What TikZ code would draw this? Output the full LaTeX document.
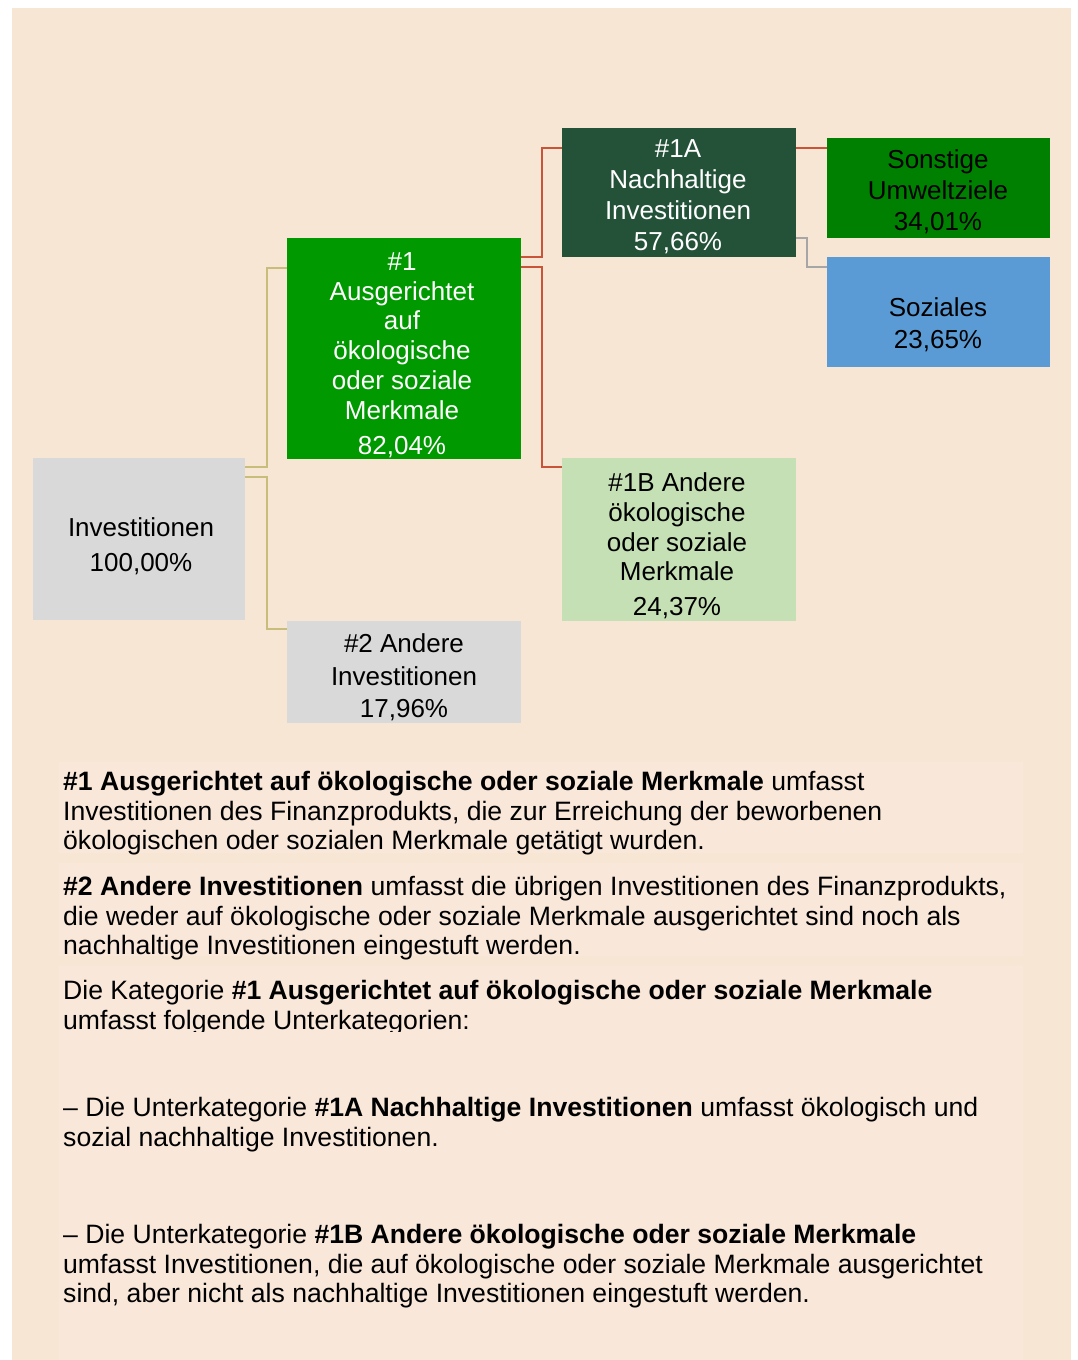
\documentclass[tikz,border=0pt]{standalone}
\usepackage{fontspec}
\setmainfont{Liberation Sans}
\definecolor{bgbeige}{HTML}{F8E6D4}
\definecolor{panelc}{HTML}{F9E8DA}
\definecolor{grayfill}{HTML}{D9D9D9}
\definecolor{greenA}{HTML}{009900}
\definecolor{darkgreen}{HTML}{245239}
\definecolor{midgreen}{HTML}{008000}
\definecolor{bluefill}{HTML}{5B9BD5}
\definecolor{lightgreen}{HTML}{C5E0B4}
\definecolor{tanc}{HTML}{C9BD7C}
\definecolor{redc}{HTML}{C8553A}
\definecolor{linegray}{HTML}{A6A6A6}
\begin{document}
\begin{tikzpicture}[x=1pt,y=-1pt,
  boxn/.style={rectangle, inner sep=0pt, draw=none},
  boxtxt/.style={align=center, inner sep=0pt, font=\fontsize{26}{30}\selectfont},
  bodytxt/.style={anchor=base west, inner sep=0pt, font=\fontsize{26.6}{30}\selectfont},
  tanline/.style={draw=tanc, line width=2pt},
  redline/.style={draw=redc, line width=2pt},
  grayline/.style={draw=linegray, line width=2pt}]
\useasboundingbox (0,0) rectangle (1077,1360);
\fill[white] (0,0) rectangle (1077,1360);
\fill[bgbeige] (12,8) rectangle (1071,1360);
\fill[panelc] (59,762) rectangle (1023,853);
\fill[panelc] (59,863) rectangle (1023,956);
\fill[panelc] (59,966) rectangle (1023,1360);

% boxes
\node[boxn, fill=grayfill, minimum width=212pt, minimum height=162pt] (inv) at (139,539) {};
\node[boxn, fill=greenA, minimum width=234pt, minimum height=221pt] (n1) at (404,348.5) {};
\node[boxn, fill=grayfill, minimum width=234pt, minimum height=102pt] (n2) at (404,672) {};
\node[boxn, fill=darkgreen, minimum width=234pt, minimum height=129pt] (n1a) at (679,192.5) {};
\node[boxn, fill=lightgreen, minimum width=234pt, minimum height=163pt] (n1b) at (679,539.5) {};
\node[boxn, fill=midgreen, minimum width=223pt, minimum height=100pt] (so) at (938.5,188) {};
\node[boxn, fill=bluefill, minimum width=223pt, minimum height=110pt] (soz) at (938.5,312) {};

% connectors
\coordinate (ya) at (267,467);
\coordinate (yb) at (267,268);
\coordinate (yc) at (267,477);
\coordinate (yd) at (267,629);
\draw[tanline] (inv.east |- ya) -- (ya) -- (yb) -- (n1.west |- yb);
\draw[tanline] (inv.east |- yc) -- (yc) -- (yd) -- (n2.west |- yd);
\coordinate (ra) at (542,257);
\coordinate (rb) at (542,148);
\coordinate (rc) at (542,267);
\coordinate (rd) at (542,467);
\draw[redline] (n1.east |- ra) -- (ra) -- (rb) -- (n1a.west |- rb);
\draw[redline] (n1.east |- rc) -- (rc) -- (rd) -- (n1b.west |- rd);
\coordinate (re) at (810,148);
\draw[redline] (n1a.east |- re) -- (so.west |- re);
\coordinate (ga) at (807,238);
\coordinate (gb) at (807,267);
\draw[grayline] (n1a.east |- ga) -- (ga) -- (gb) -- (soz.west |- gb);

% box texts
\node[boxtxt] (tinv) at (141,546.5) {Investitionen\\[5pt]100,00\%};
\node[boxtxt, white, font=\fontsize{26}{29.8}\selectfont] (tn1) at (402,355) {\#1\\Ausgerichtet\\auf\\ökologische\\oder soziale\\Merkmale\\[5pt]82,04\%};
\node[boxtxt, font=\fontsize{26}{32.5}\selectfont] (tn2) at (404,677.5) {\#2 Andere\\Investitionen\\17,96\%};
\node[boxtxt, white, font=\fontsize{26}{31}\selectfont] (tn1a) at (678,197) {\#1A\\Nachhaltige\\Investitionen\\57,66\%};
\node[boxtxt, font=\fontsize{26}{29.7}\selectfont] (tn1b) at (677,546) {\#1B Andere\\ökologische\\oder soziale\\Merkmale\\[5pt]24,37\%};
\node[boxtxt, font=\fontsize{26}{31}\selectfont] (tso) at (938,192) {Sonstige\\Umweltziele\\34,01\%};
\node[boxtxt, font=\fontsize{26}{32}\selectfont] (tsoz) at (938,325) {Soziales\\23,65\%};

% body text
\node[bodytxt] (l1) at (63,790) {\textbf{\#1 Ausgerichtet auf ökologische oder soziale Merkmale} umfasst};
\node[bodytxt] (l2) at (63,820) {Investitionen des Finanzprodukts, die zur Erreichung der beworbenen};
\node[bodytxt] (l3) at (63,849.5) {ökologischen oder sozialen Merkmale getätigt wurden.};
\node[bodytxt] (l4) at (63,895) {\textbf{\#2 Andere Investitionen} umfasst die übrigen Investitionen des Finanzprodukts,};
\node[bodytxt] (l5) at (63,925) {die weder auf ökologische oder soziale Merkmale ausgerichtet sind noch als};
\node[bodytxt] (l6) at (63,954) {nachhaltige Investitionen eingestuft werden.};
\node[bodytxt] (l7) at (63,999) {Die Kategorie \textbf{\#1 Ausgerichtet auf ökologische oder soziale Merkmale}};
\begin{scope}
\clip (0,0) rectangle (1077,1031);
\node[bodytxt] (l8) at (63,1029) {umfasst folgende Unterkategorien:};
\end{scope}
\node[bodytxt] (l9) at (63,1116) {– Die Unterkategorie \textbf{\#1A Nachhaltige Investitionen} umfasst ökologisch und};
\node[bodytxt] (l10) at (63,1146) {sozial nachhaltige Investitionen.};
\node[bodytxt] (l11) at (63,1243) {– Die Unterkategorie \textbf{\#1B Andere ökologische oder soziale Merkmale}};
\node[bodytxt] (l12) at (63,1273) {umfasst Investitionen, die auf ökologische oder soziale Merkmale ausgerichtet};
\node[bodytxt] (l13) at (63,1302) {sind, aber nicht als nachhaltige Investitionen eingestuft werden.};
\end{tikzpicture}
\end{document}
